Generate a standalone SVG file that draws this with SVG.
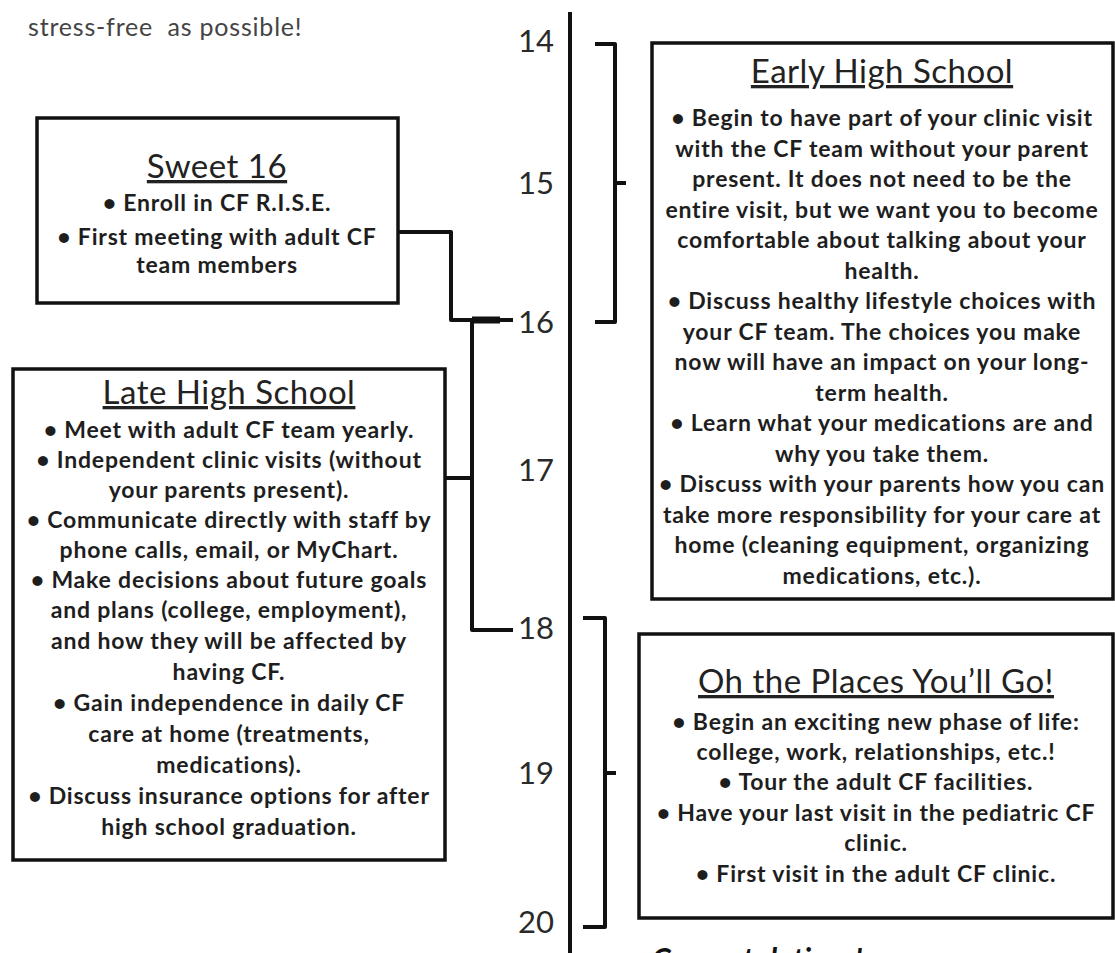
<svg xmlns="http://www.w3.org/2000/svg" width="1115" height="953" viewBox="0 0 1115 953">
<style>
.box{fill:#fff;stroke:#111;stroke-width:3.5}
.ttl{font-family:Lato,"Liberation Sans",sans-serif;font-size:33px;letter-spacing:0.5px;fill:#222;text-anchor:middle;text-decoration:underline}
.b{font-family:Lato,"Liberation Sans",sans-serif;font-size:23px;letter-spacing:0.8px;font-weight:700;fill:#1e1e1e;text-anchor:middle}
.num{font-family:Lato,"Liberation Sans",sans-serif;font-size:31px;fill:#2a2a2a;text-anchor:middle}
.ln{fill:none;stroke:#111;stroke-width:4;stroke-linejoin:round}
</style>
<rect width="1115" height="953" fill="#fff"/>
<text x="28" y="36" font-family="Lato,'Liberation Sans',sans-serif" font-size="25" letter-spacing="0.8" fill="#444" xml:space="preserve">stress-free  as possible!</text>

<g id="timeline">
<line class="ln" x1="570" y1="12" x2="570" y2="953"/>
<text class="num" x="536" y="52">14</text>
<text class="num" x="536" y="194">15</text>
<text class="num" x="536" y="333">16</text>
<text class="num" x="536" y="481">17</text>
<text class="num" x="536" y="639">18</text>
<text class="num" x="536" y="784">19</text>
<text class="num" x="536" y="933">20</text>
</g>

<g id="connectors">
<path class="ln" d="M398 232 H451 V320 H513"/>
<path class="ln" d="M472 320 V630 H513"/>
<path class="ln" d="M445 478 H472"/>
<line x1="472" y1="320" x2="500" y2="320" stroke="#111" stroke-width="7"/>
<path class="ln" d="M595 44 H615 V322 H595 M615 183 H626"/>
<path class="ln" d="M583 618 H605 V927 H583 M605 773 H616"/>
</g>

<g id="sweet16">
<rect class="box" x="37" y="118" width="361" height="185"/>
<text class="ttl" x="217" y="178">Sweet 16</text>
<text class="b" x="217" y="211">• Enroll in CF R.I.S.E.</text>
<text class="b" x="217" y="245">• First meeting with adult CF</text>
<text class="b" x="217" y="273">team members</text>
</g>

<g id="late-high-school">
<rect class="box" x="13" y="369" width="432" height="491"/>
<text class="ttl" x="229" y="404">Late High School</text>
<text class="b" x="229" y="438">• Meet with adult CF team  yearly.</text>
<text class="b" x="229" y="468">• Independent clinic visits (without</text>
<text class="b" x="229" y="498">your parents present).</text>
<text class="b" x="229" y="528">• Communicate directly with staff by</text>
<text class="b" x="229" y="558">phone calls, email, or MyChart.</text>
<text class="b" x="229" y="588">• Make decisions about future goals</text>
<text class="b" x="229" y="618">and plans (college, employment),</text>
<text class="b" x="229" y="649">and how they will be affected by</text>
<text class="b" x="229" y="680">having CF.</text>
<text class="b" x="229" y="711">•  Gain independence in daily CF</text>
<text class="b" x="229" y="742">care at home (treatments,</text>
<text class="b" x="229" y="773">medications).</text>
<text class="b" x="229" y="804">• Discuss insurance options for after</text>
<text class="b" x="229" y="835">high school graduation.</text>
</g>

<g id="early-high-school">
<rect class="box" x="652" y="43" width="461" height="556"/>
<text class="ttl" x="882" y="83">Early High School</text>
<text class="b" x="882" y="126">• Begin to have part of your clinic visit</text>
<text class="b" x="882" y="157">with the CF team  without your parent</text>
<text class="b" x="882" y="187">present.  It does not need to be the</text>
<text class="b" x="882" y="218">entire visit, but we want you to become</text>
<text class="b" x="882" y="248">comfortable about talking about your</text>
<text class="b" x="882" y="279">health.</text>
<text class="b" x="882" y="309">• Discuss healthy lifestyle choices with</text>
<text class="b" x="882" y="340">your CF team. The choices you make</text>
<text class="b" x="882" y="370">now will have an impact on your long-</text>
<text class="b" x="882" y="401">term health.</text>
<text class="b" x="882" y="431">• Learn what your medications are and</text>
<text class="b" x="882" y="462">why you take them.</text>
<text class="b" x="882" y="492">• Discuss with your parents how you can</text>
<text class="b" x="882" y="523">take more responsibility for your care at</text>
<text class="b" x="882" y="553">home (cleaning equipment, organizing</text>
<text class="b" x="882" y="584">medications, etc.).</text>
</g>

<g id="places">
<rect class="box" x="639" y="634" width="474" height="284"/>
<text class="ttl" x="876" y="693">Oh the Places You’ll Go!</text>
<text class="b" x="876" y="730">• Begin an exciting new phase of life:</text>
<text class="b" x="876" y="760">college, work, relationships, etc.!</text>
<text class="b" x="876" y="790">• Tour the adult CF facilities.</text>
<text class="b" x="876" y="821">• Have your last visit in the pediatric CF</text>
<text class="b" x="876" y="851">clinic.</text>
<text class="b" x="876" y="882">• First visit in the adult CF clinic.</text>
</g>

<text x="652" y="970" font-family="Lato,'Liberation Sans',sans-serif" font-size="30" font-weight="700" font-style="italic" fill="#111">Congratulations!</text>
</svg>
